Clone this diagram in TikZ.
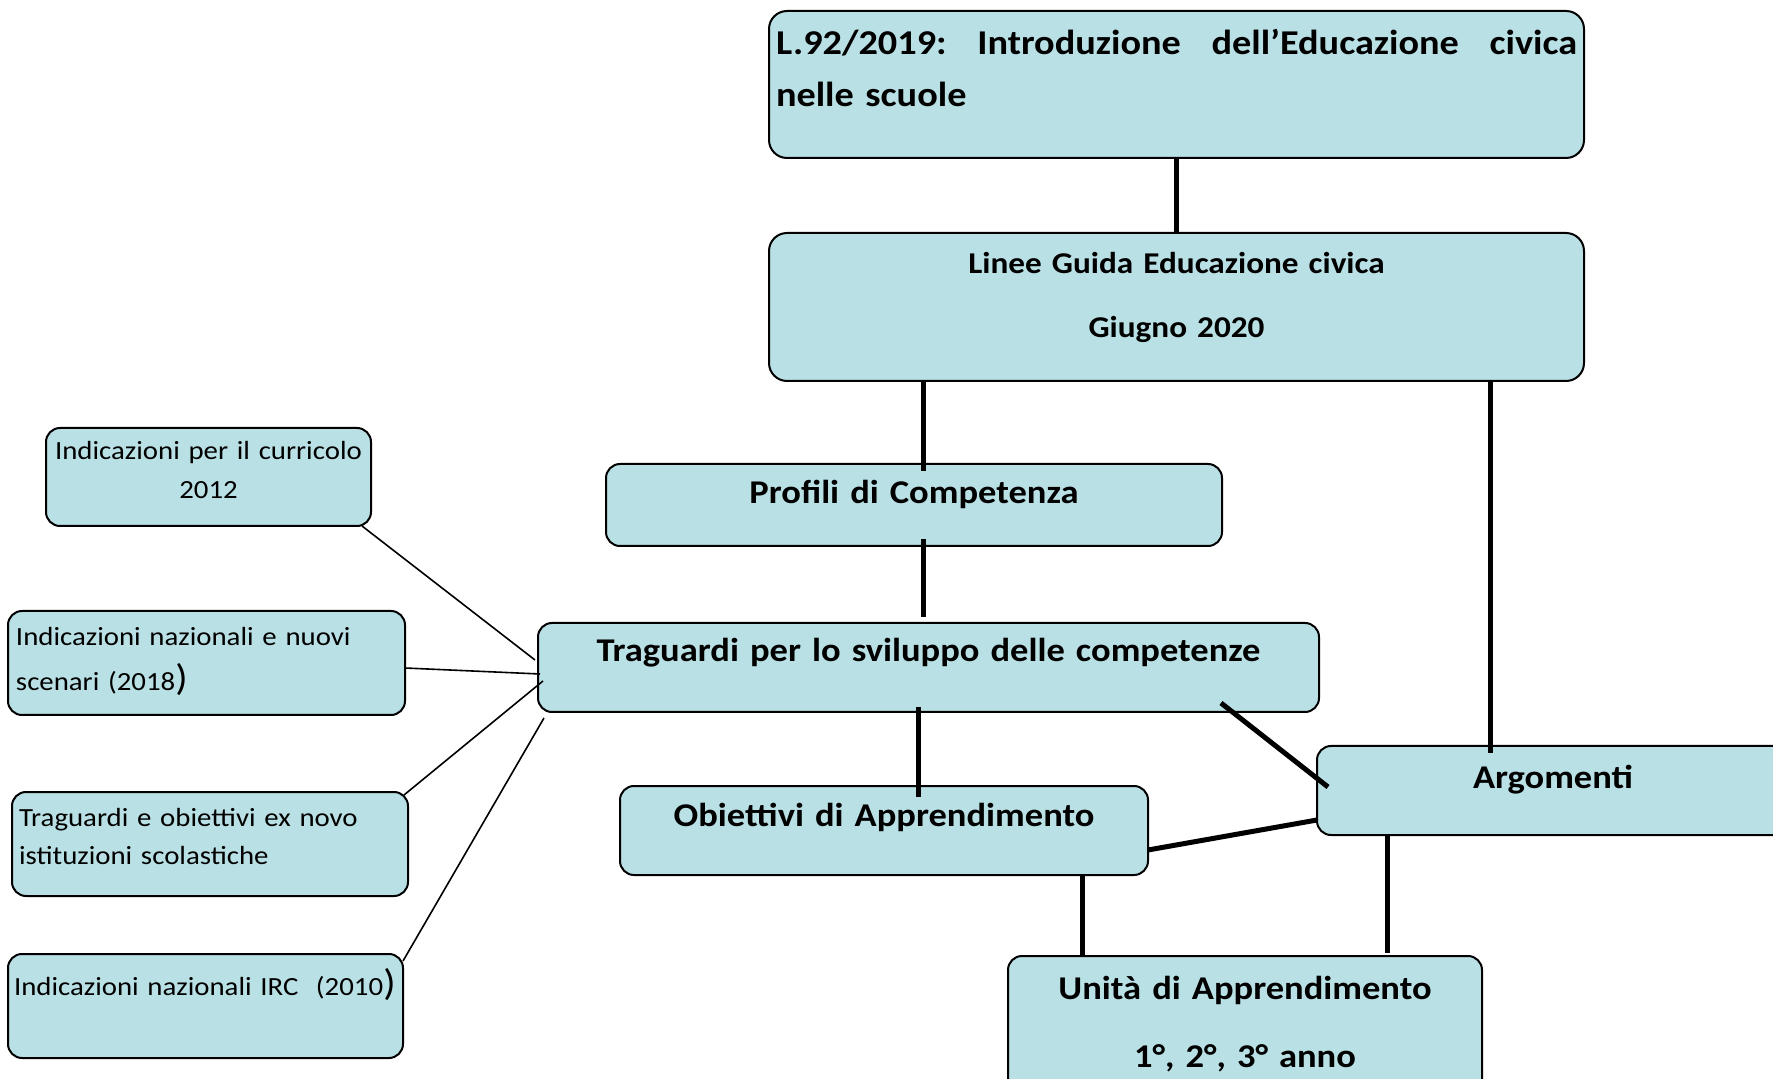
\documentclass[tikz,border=0pt]{standalone}
\usepackage{fontspec}
\setmainfont{Carlito}[FakeStretch=1.1]
\usetikzlibrary{positioning}
\definecolor{colorbox}{RGB}{185,224,228}
\tikzstyle{every node}=[inner sep=0pt, outer sep=0pt]
\tikzstyle{box}=[rectangle, rounded corners=7pt, draw=black, line width=1pt, fill=colorbox, anchor=north west]
\tikzstyle{link}=[draw=black, line width=2.5pt]
\tikzstyle{source}=[draw=black, line width=0.8pt]
\newcommand{\fontlegge}{\bfseries\fontsize{17.4}{26}\selectfont}
\newcommand{\fontlinee}{\bfseries\fontsize{15.1}{32}\selectfont}
\newcommand{\fontmain}{\bfseries\fontsize{16.6}{34}\selectfont}
\newcommand{\fontsource}[1]{\fontsize{13.1}{#1}\selectfont}
\newcommand{\bigparen}{{\fontsize{18.5}{18.5}\selectfont)}}

\begin{document}
\begin{tikzpicture}[x=0.5pt, y=-0.5pt]

		\useasboundingbox (0, 0) rectangle (1773, 1079);

		\node[box, rounded corners=9pt, text width=400.5pt, inner xsep=3.5pt, text height=22pt, text depth=51.5pt, align=left, font=\fontlegge] at (769, 11) (legge) {L.92/2019:\hfill Introduzione\hfill dell’Educazione\hfill civica\\nelle scuole};

		\node[box, rounded corners=9pt, text width=407.5pt, text height=20.5pt, text depth=53.5pt, align=center, font=\fontlinee] at (769, 233) (linee) {Linee Guida Educazione civica\\Giugno 2020};

		\node[box, text width=308pt, text height=20pt, text depth=21pt, align=center, font=\fontmain] at (606, 464) (profili) {Profili di Competenza};

		\node[box, text width=390.5pt, text height=19.5pt, text depth=25pt, align=center, font=\fontmain] at (538, 623) (trag) {Traguardi per lo sviluppo delle competenze};

		\node[box, text width=264pt, text height=20.5pt, text depth=24pt, align=center, font=\fontmain] at (620, 786) (obiet) {Obiettivi di Apprendimento};

		\node[box, text width=236pt, text height=21pt, text depth=23.5pt, align=center, font=\fontmain] at (1317, 746) (argom) {Argomenti};

		\node[box, text width=237pt, text height=21.5pt, text depth=55.5pt, align=center, font=\fontmain] at (1008, 956) (unita) {Unità di Apprendimento\\1°, 2°, 3° anno};

		\node[box, text width=162.5pt, text height=16pt, text depth=33pt, align=center, font=\fontsource{19.5pt}] at (46, 428) (curric) {Indicazioni per il curricolo\\2012};

		\node[box, text width=190.5pt, inner xsep=4pt, text height=17.5pt, text depth=34.5pt, align=left, font=\fontsource{22.5pt}] at (8, 611) (nuovi) {Indicazioni nazionali e nuovi\\scenari (2018\bigparen};

		\node[box, text width=191pt, inner xsep=3.5pt, text height=17pt, text depth=35pt, align=left, font=\fontsource{19.5pt}] at (12, 792) (tragob) {Traguardi e obiettivi ex novo\\istituzioni scolastiche};

		\node[box, text width=191.5pt, inner xsep=3pt, text height=20.5pt, text depth=31.5pt, align=left, font=\fontsource{19.5pt}] at (8, 954) (irc) {Indicazioni nazionali IRC\ \ (2010\bigparen};

		\path (legge.south) edge[link] (linee.north);
		\path ([xshift=77pt]linee.south west) edge[link] ([xshift=158.5pt, yshift=-3.5pt]profili.north west);
		\path ([xshift=360.5pt]linee.south west) edge[link] ([xshift=86.5pt, yshift=-3.5pt]argom.north west);
		\path ([xshift=158.5pt, yshift=3.5pt]profili.south west) edge[link] ([xshift=192.5pt, yshift=3pt]trag.north west);
		\path ([xshift=190pt, yshift=2.5pt]trag.south west) edge[link] ([xshift=149pt, yshift=-5.5pt]obiet.north west);
		\path ([xshift=-49pt, yshift=4.5pt]trag.south east) edge[link] ([xshift=5.5pt, yshift=-20.5pt]argom.north west);
		\path ([yshift=12.5pt]obiet.south east) edge[link] ([yshift=7.5pt]argom.south west);
		\path ([xshift=231pt]obiet.south west) edge[link] ([xshift=37pt]unita.north west);
		\path ([xshift=35pt]argom.south west) edge[link] ([xshift=189.5pt, yshift=1.5pt]unita.north west);

		\path ([xshift=-4.5pt]curric.south east) edge[source] ([xshift=-1.5pt, yshift=3.75pt]trag.west);
		\path ([yshift=-2.5pt]nuovi.east) edge[source] ([xshift=1pt, yshift=-3.25pt]trag.west);
		\path ([xshift=-2pt, yshift=-1.5pt]tragob.north east) edge[source] ([xshift=2.5pt, yshift=-6.75pt]trag.west);
		\path ([yshift=-3.5pt]irc.north east) edge[source] ([xshift=3pt, yshift=-25.25pt]trag.west);

\end{tikzpicture}
\end{document}
